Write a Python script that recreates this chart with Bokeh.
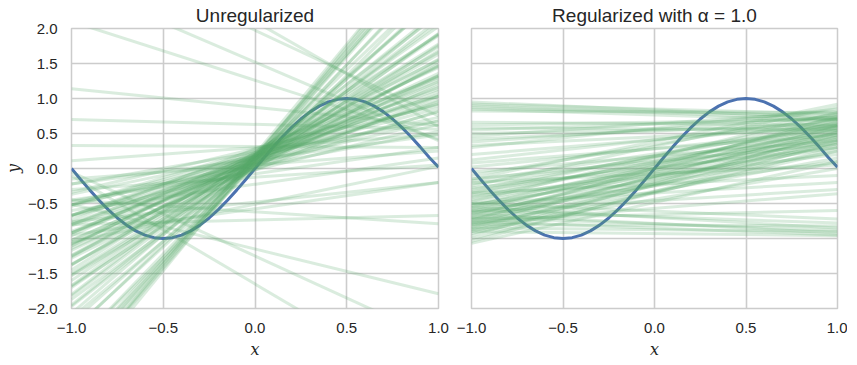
from bokeh.plotting import figure
from bokeh.layouts import row
from bokeh.models import FixedTicker, Range1d
from bokeh.embed import file_html
from bokeh.resources import INLINE

# ---- data ----
x_ticks = [-1.0, -0.5, 0.0, 0.5, 1.0]
x_tick_labels = ["\u22121.0", "\u22120.5", "0.0", "0.5", "1.0"]
y_ticks = [-2.0, -1.5, -1.0, -0.5, 0.0, 0.5, 1.0, 1.5, 2.0]
y_tick_labels = ["\u22122.0", "\u22121.5", "\u22121.0", "\u22120.5", "0.0", "0.5", "1.0", "1.5", "2.0"]

sine_x = [-1.0, -0.95, -0.9, -0.85, -0.8, -0.75, -0.7, -0.65, -0.6, -0.55, -0.5,
          -0.45, -0.4, -0.35, -0.3, -0.25, -0.2, -0.15, -0.1, -0.05, 0.0,
          0.05, 0.1, 0.15, 0.2, 0.25, 0.3, 0.35, 0.4, 0.45, 0.5,
          0.55, 0.6, 0.65, 0.7, 0.75, 0.8, 0.85, 0.9, 0.95, 1.0]
sine_y = [0.0, -0.156, -0.309, -0.454, -0.588, -0.707, -0.809, -0.891, -0.951, -0.988, -1.0,
          -0.988, -0.951, -0.891, -0.809, -0.707, -0.588, -0.454, -0.309, -0.156, 0.0,
          0.156, 0.309, 0.454, 0.588, 0.707, 0.809, 0.891, 0.951, 0.988, 1.0,
          0.988, 0.951, 0.891, 0.809, 0.707, 0.588, 0.454, 0.309, 0.156, 0.02]

line_x_ends = [-1.0, 1.0]

# unregularized fits: y at x=-1 and y at x=1
unreg_left = [-0.22, -0.22, -0.47, -0.37, -0.52, -0.34, -0.67, -0.54, -0.52, -0.69,
              -0.52, -0.67, -0.82, -0.67, -0.80, -0.67, -0.78, -0.92, -0.80, -0.90,
              -0.74, -1.07, -0.92, -1.02, -0.92, -1.03, -1.14, -0.96, -1.08, -1.17,
              -1.10, -1.28, -1.11, -1.25, -1.24, -1.37, -1.26, -1.37, -1.53, -1.38,
              -1.52, -1.50, -1.45, -1.68, -1.60, -1.70, -1.67, -1.87, -1.82, -1.80,
              -1.97, -1.95, -2.13, -2.07, -2.20, -2.32, -2.34, -2.57, -2.57, -2.72,
              -2.72, -2.83, -2.82, -2.95, -2.95, -2.95, -3.06,
              2.10, 2.64, 1.14, 0.70, 0.33, 0.11, -0.51, -0.10, -0.05, -0.45,
              -0.80, -0.76, 3.60, 3.20, -1.05, -0.95, -0.60, -0.45, -0.30, -0.15]
unreg_right = [0.48, 0.68, 0.53, 0.73, 0.68, 0.90, 0.63, 0.86, 0.92, 0.81,
               1.04, 0.93, 0.82, 1.03, 0.96, 1.13, 1.06, 0.98, 1.16, 1.10,
               1.30, 1.03, 1.24, 1.18, 1.32, 1.27, 1.22, 1.44, 1.36, 1.33,
               1.46, 1.32, 1.55, 1.47, 1.56, 1.49, 1.66, 1.63, 1.53, 1.74,
               1.68, 1.78, 1.91, 1.76, 1.92, 1.90, 2.03, 1.93, 2.08, 2.20,
               2.13, 2.25, 2.23, 2.43, 2.44, 2.48, 2.66, 2.63, 2.83, 2.88,
               3.08, 3.07, 3.18, 3.15, 3.25, 3.35, 3.34,
               0.42, 0.40, 0.61, 0.56, 0.30, 0.49, -1.79, -3.20, -2.45, -0.79,
               -0.67, -0.20, 0.60, 0.75, 0.03, -0.20, 0.15, 0.30, 0.05, 0.25]

# regularized fits (alpha = 1.0): y at x=-1 and y at x=1
reg_left = [0.95, 0.92, 0.90, 0.87, 0.85, 0.82,
            0.66, 0.62, 0.58, 0.55, 0.50, 0.46, 0.42, 0.38, 0.33, 0.30,
            0.20, 0.12, 0.08, 0.02, -0.05, -0.10, -0.15, -0.18, -0.22, -0.25,
            -0.28, -0.30, -0.33, -0.35, -0.38, -0.40, -0.42, -0.45, -0.47, -0.50,
            -0.52, -0.54, -0.56, -0.58, -0.60, -0.62, -0.64, -0.66, -0.68, -0.70,
            -0.72, -0.74, -0.76, -0.78, -0.80, -0.82, -0.84, -0.86, -0.88, -0.90,
            -0.93, -0.96, -1.00, -1.04, -1.07,
            -0.20, -0.35, -0.50, -0.62, -0.78, -0.15,
            -0.50, -0.55, -0.60, -0.65, -0.70, -0.75, -0.80, -0.85, -0.90, -0.72]
reg_right = [0.72, 0.78, 0.70, 0.75, 0.68, 0.80,
             0.62, 0.70, 0.55, 0.72, 0.60, 0.82, 0.65, 0.74, 0.58, 0.85,
             0.62, 0.70, 0.48, 0.55, 0.40, 0.78, 0.35, 0.60, 0.50, 0.88,
             0.30, 0.65, 0.45, 0.72, 0.55, 0.20, 0.62, 0.40, 0.80, 0.50,
             0.30, 0.66, 0.45, 0.58, 0.10, 0.70, 0.35, 0.52, 0.62, 0.25,
             0.45, 0.75, 0.40, 0.55, 0.15, 0.60, 0.35, 0.48, 0.00, 0.42,
             0.25, 0.52, 0.30, 0.38, 0.10,
             0.05, -0.10, -0.20, -0.30, -0.36, 0.92,
             -0.72, -0.85, -0.78, -0.92, -0.88, -0.95, -0.82, -0.90, -0.96, -0.60]

titles = ["Unregularized", "Regularized with \u03b1 = 1.0"]

# ---- styling ----
BLUE = "#4C72B0"
GREEN = "#55A868"
GRID = "#cccccc"
TEXT = "#262626"
FONT = "Liberation Sans"


def make_fig(title, left_border, right_border, show_y):
    p = figure(frame_width=367 if show_y else 366, frame_height=280,
               x_range=Range1d(-1, 1), y_range=Range1d(-2, 2),
               output_backend="svg", toolbar_location=None,
               min_border_left=left_border, min_border_right=right_border,
               min_border_top=20, min_border_bottom=44,
               background_fill_color="white", border_fill_color="white")
    p.title.text = title
    p.title.text_font = FONT
    p.title.text_font_size = "19px"
    p.title.text_font_style = "normal"
    p.title.text_color = TEXT
    p.title.align = "center"
    p.title.standoff = 5
    p.outline_line_color = GRID
    p.outline_line_width = 1.5

    p.xaxis.ticker = FixedTicker(ticks=x_ticks)
    p.xaxis.major_label_overrides = dict(zip(x_ticks, x_tick_labels))
    p.yaxis.ticker = FixedTicker(ticks=y_ticks)
    p.yaxis.major_label_overrides = dict(zip(y_ticks, y_tick_labels))
    p.xgrid.ticker = FixedTicker(ticks=x_ticks)
    p.ygrid.ticker = FixedTicker(ticks=y_ticks)
    for ax in (p.xaxis, p.yaxis):
        ax.axis_line_color = None
        ax.major_tick_line_color = None
        ax.minor_tick_line_color = None
        ax.major_label_text_font = FONT
        ax.major_label_text_font_size = "15px"
        ax.major_label_text_color = TEXT
        ax.axis_label_text_font = "DejaVu Serif"
        ax.axis_label_text_font_style = "italic"
        ax.axis_label_text_font_size = "16px"
        ax.axis_label_text_color = TEXT
    p.xaxis.major_label_standoff = 8
    p.yaxis.major_label_standoff = 8
    p.xaxis.axis_label = "x"
    p.xaxis.axis_label_standoff = 4
    if show_y:
        p.yaxis.axis_label = "y"
        p.yaxis.axis_label_standoff = 2
    else:
        p.yaxis.visible = False
    for g in (p.xgrid, p.ygrid):
        g.grid_line_color = GRID
        g.grid_line_width = 1.6
    return p


p1 = make_fig(titles[0], 65, 16, True)
p1.line(sine_x, sine_y, line_color=BLUE, line_width=3)
p1.multi_line(xs=[line_x_ends] * len(unreg_left),
              ys=[[a, b] for a, b in zip(unreg_left, unreg_right)],
              line_color=GREEN, line_alpha=0.22, line_width=3)

p2 = make_fig(titles[1], 17, 10, False)
p2.line(sine_x, sine_y, line_color=BLUE, line_width=3)
p2.multi_line(xs=[line_x_ends] * len(reg_left),
              ys=[[a, b] for a, b in zip(reg_left, reg_right)],
              line_color=GREEN, line_alpha=0.22, line_width=3)

layout = row(p1, p2)
open("out.html", "w").write(file_html(layout, INLINE))
